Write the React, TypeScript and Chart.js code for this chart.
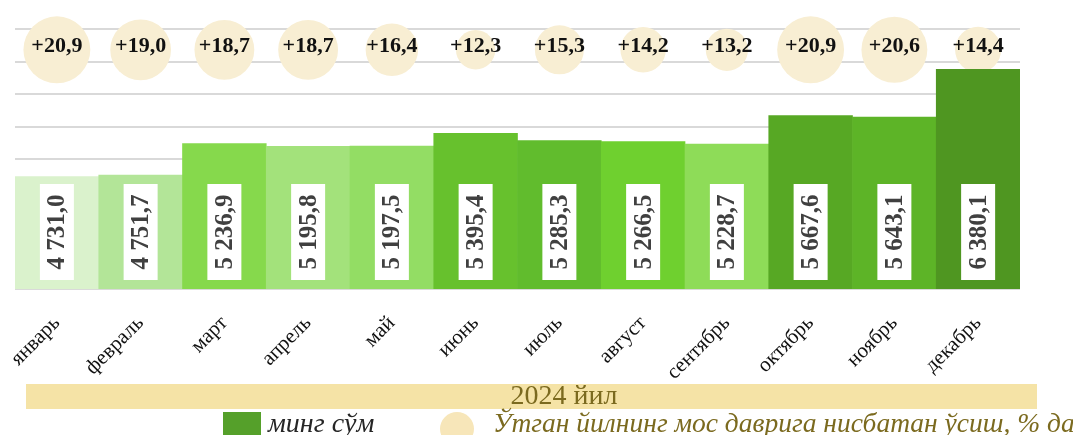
import React, { useEffect, useRef } from 'react';
import { Chart, registerables } from 'chart.js';

Chart.register(...registerables);

const months = ['январь', 'февраль', 'март', 'апрель', 'май', 'июнь', 'июль', 'август', 'сентябрь', 'октябрь', 'ноябрь', 'декабрь'];
const wageValues = [4731.0, 4751.7, 5236.9, 5195.8, 5197.5, 5395.4, 5285.3, 5266.5, 5228.7, 5667.6, 5643.1, 6380.1];
const growthValues = [20.9, 19.0, 18.7, 18.7, 16.4, 12.3, 15.3, 14.2, 13.2, 20.9, 20.6, 14.4];
const barColors = ['#daf2cc', '#b3e598', '#86d94c', '#a3e27b', '#93dd64', '#67c12d', '#61bc2d', '#6fd02f', '#8edc58', '#57a824', '#5db427', '#4f9621'];
const yearLabel = '2024 йил';
const legendBarLabel = 'минг сўм';
const legendBubbleLabel = 'Ўтган йилнинг мос даврига нисбатан ўсиш, % да';
const yMin = 3000;
const yMax = 7000;
const yStep = 500;
const bubbleLevel = 6680;
const bubbleScale = 1.6;

const SERIF = '"Liberation Serif", "Times New Roman", serif';

const fmtValue = (v: number) => {
  const [i, d] = v.toFixed(1).split('.');
  return i.replace(/\B(?=(\d{3})+(?!\d))/g, ' ') + ',' + d;
};
const fmtGrowth = (v: number) => '+' + v.toFixed(1).replace('.', ',');

const decorPlugin = {
  id: 'decor',
  beforeDraw(chart: any) {
    const ctx = chart.ctx as CanvasRenderingContext2D;
    ctx.save();
    // year band
    ctx.fillStyle = '#f5e3a6';
    ctx.fillRect(18, 376, 1011, 25);
    ctx.fillStyle = '#7b6a1f';
    ctx.font = `28px ${SERIF}`;
    ctx.textAlign = 'center';
    ctx.textBaseline = 'middle';
    ctx.fillText(yearLabel, 556, 389);
    // legend
    ctx.fillStyle = '#55a02a';
    ctx.fillRect(215, 404, 38, 25);
    ctx.font = `italic 28px ${SERIF}`;
    ctx.textAlign = 'left';
    ctx.fillStyle = '#262626';
    ctx.fillText(legendBarLabel, 260, 417);
    ctx.beginPath();
    ctx.arc(449, 421, 17, 0, Math.PI * 2);
    ctx.fillStyle = '#f7e6b9';
    ctx.fill();
    ctx.fillStyle = '#7b6a1f';
    ctx.font = `italic 27.5px ${SERIF}`;
    ctx.fillText(legendBubbleLabel, 485, 417);
    ctx.restore();
  },
  afterDatasetsDraw(chart: any) {
    const ctx = chart.ctx as CanvasRenderingContext2D;
    const area = chart.chartArea;
    const barMeta = chart.getDatasetMeta(0);
    const bubbleMeta = chart.getDatasetMeta(1);
    barMeta.data.forEach((el: any, i: number) => {
      const cx = el.x;
      const cy = area.bottom - 57;
      ctx.save();
      ctx.fillStyle = '#ffffff';
      ctx.fillRect(cx - 17, cy - 48, 34, 96);
      ctx.translate(cx, cy);
      ctx.rotate(-Math.PI / 2);
      ctx.fillStyle = '#404040';
      ctx.font = `bold 25px ${SERIF}`;
      ctx.textAlign = 'center';
      ctx.textBaseline = 'middle';
      ctx.fillText(fmtValue(wageValues[i]), 0, 1);
      ctx.restore();
    });
    bubbleMeta.data.forEach((el: any, i: number) => {
      ctx.save();
      ctx.fillStyle = '#111111';
      ctx.font = `bold 22px ${SERIF}`;
      ctx.textAlign = 'center';
      ctx.textBaseline = 'middle';
      ctx.fillText(fmtGrowth(growthValues[i]), el.x, el.y - 3);
      ctx.restore();
    });
  },
};

const zeroPadding = (s: any) => {
  s.paddingLeft = 0;
  s.paddingRight = 0;
  s.paddingTop = 0;
  s.paddingBottom = 0;
};

export default function App() {
  const canvasRef = useRef<HTMLCanvasElement | null>(null);

  useEffect(() => {
    if (!canvasRef.current) return;
    Chart.defaults.font.family = SERIF;
    const chart = new Chart(canvasRef.current, {
      type: 'bar',
      data: {
        labels: months,
        datasets: [
          {
            type: 'bar',
            label: legendBarLabel,
            data: wageValues,
            backgroundColor: barColors,
            borderWidth: 0,
            barPercentage: 1,
            categoryPercentage: 1,
            order: 1,
          } as any,
          {
            type: 'bubble',
            label: legendBubbleLabel,
            data: months.map((m, i) => ({ x: m, y: bubbleLevel, r: growthValues[i] * bubbleScale })),
            backgroundColor: '#f8eed3',
            borderWidth: 0,
            hoverRadius: 0,
            clip: false,
            order: 2,
          } as any,
        ],
      },
      options: {
        animation: false,
        responsive: true,
        maintainAspectRatio: false,
        layout: { autoPadding: false, padding: { left: 7, right: 61, top: 21, bottom: 0 } },
        plugins: {
          legend: { display: false },
          tooltip: { enabled: false },
        },
        scales: {
          x: {
            type: 'category',
            offset: true,
            grid: { display: false, drawTicks: false },
            border: { display: false },
            ticks: {
              autoSkip: false,
              minRotation: 45,
              maxRotation: 45,
              padding: 22,
              color: '#111111',
              font: { family: SERIF, size: 21 },
            },
            afterFit: (s: any) => {
              s.height = 154;
              zeroPadding(s);
            },
          },
          y: {
            min: yMin,
            max: yMax,
            ticks: { stepSize: yStep, display: false },
            grid: { color: '#d9d9d9', lineWidth: 2, drawTicks: false },
            border: { display: false },
            afterFit: (s: any) => {
              s.width = 0;
              zeroPadding(s);
            },
          },
        },
      } as any,
      plugins: [decorPlugin],
    });
    return () => chart.destroy();
  }, []);

  return (
    <div style={{ width: 1073, height: 435, overflow: 'hidden', marginBottom: -8, position: 'relative' }}>
      <canvas ref={canvasRef} />
    </div>
  );
}
